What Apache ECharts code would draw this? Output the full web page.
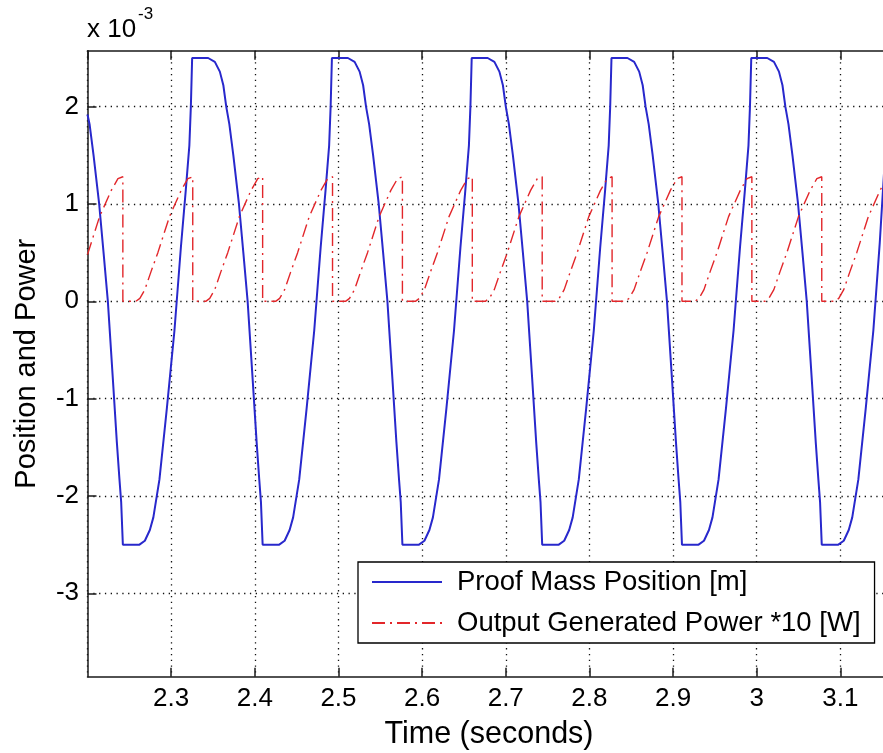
<!DOCTYPE html>
<html><head><meta charset="utf-8">
<script src="https://cdn.jsdelivr.net/npm/echarts@6/dist/echarts.min.js"></script>
<style>html,body{margin:0;padding:0;background:#fff}#c{width:883px;height:753px}</style>
</head><body><div id="c"></div>
<script>
// ---- data (time in s, values x 1e-3) ----
const seriesNames = ['Proof Mass Position [m]', 'Output Generated Power *10 [W]'];
const yTickValues = [-3, -2, -1, 0, 1, 2];
const xRange = [2.2, 3.2];
const yRange = [-3.857, 2.575];

const positionData = [
[2.2,1.92],[2.20247,1.82],[2.20725,1.5],[2.21394,1.0],[2.2192,0.5],[2.22434,0],[2.23032,-0.8],[2.2351,-1.45],[2.23821,-1.83],[2.24024,-2.06],[2.24227,-2.5],
[2.26211,-2.5],[2.26857,-2.46],[2.27454,-2.35],[2.27873,-2.22],[2.28602,-1.83],[2.29486,-1.1],[2.30395,-0.3],[2.3116,0.55],[2.31757,1.15],[2.32176,1.6],[2.32355,2.0],[2.3251,2.5],[2.34423,2.5],
[2.35224,2.46],[2.35821,2.36],[2.3624,2.22],[2.36586,2.0],[2.36957,1.82],[2.37435,1.5],[2.38104,1.0],[2.3863,0.5],[2.39144,0],[2.39742,-0.8],[2.4022,-1.45],[2.40531,-1.83],[2.40734,-2.06],[2.40937,-2.5],
[2.42921,-2.5],[2.43567,-2.46],[2.44164,-2.35],[2.44583,-2.22],[2.45312,-1.83],[2.46196,-1.1],[2.47105,-0.3],[2.4787,0.55],[2.48467,1.15],[2.48886,1.6],[2.49065,2.0],[2.4922,2.5],[2.51133,2.5],
[2.51934,2.46],[2.52531,2.36],[2.5295,2.22],[2.53296,2.0],[2.53667,1.82],[2.54145,1.5],[2.54814,1.0],[2.5534,0.5],[2.55854,0],[2.56452,-0.8],[2.5693,-1.45],[2.57241,-1.83],[2.57444,-2.06],[2.57647,-2.5],
[2.59631,-2.5],[2.60277,-2.46],[2.60874,-2.35],[2.61293,-2.22],[2.62022,-1.83],[2.62906,-1.1],[2.63815,-0.3],[2.6458,0.55],[2.65177,1.15],[2.65596,1.6],[2.65775,2.0],[2.6593,2.5],[2.67843,2.5],
[2.68644,2.46],[2.69241,2.36],[2.6966,2.22],[2.70006,2.0],[2.70377,1.82],[2.70855,1.5],[2.71524,1.0],[2.7205,0.5],[2.72564,0],[2.73162,-0.8],[2.7364,-1.45],[2.73951,-1.83],[2.74154,-2.06],[2.74357,-2.5],
[2.76341,-2.5],[2.76987,-2.46],[2.77584,-2.35],[2.78003,-2.22],[2.78732,-1.83],[2.79616,-1.1],[2.80525,-0.3],[2.8129,0.55],[2.81887,1.15],[2.82306,1.6],[2.82485,2.0],[2.8264,2.5],[2.84553,2.5],
[2.85354,2.46],[2.85951,2.36],[2.8637,2.22],[2.86716,2.0],[2.87087,1.82],[2.87565,1.5],[2.88234,1.0],[2.8876,0.5],[2.89274,0],[2.89872,-0.8],[2.9035,-1.45],[2.90661,-1.83],[2.90864,-2.06],[2.91067,-2.5],
[2.93051,-2.5],[2.93697,-2.46],[2.94294,-2.35],[2.94713,-2.22],[2.95442,-1.83],[2.96326,-1.1],[2.97235,-0.3],[2.98,0.55],[2.98597,1.15],[2.99016,1.6],[2.99195,2.0],[2.9935,2.5],[3.01263,2.5],
[3.02064,2.46],[3.02661,2.36],[3.0308,2.22],[3.03426,2.0],[3.03797,1.82],[3.04275,1.5],[3.04944,1.0],[3.0547,0.5],[3.05984,0],[3.06582,-0.8],[3.0706,-1.45],[3.07371,-1.83],[3.07574,-2.06],[3.07777,-2.5],
[3.09761,-2.5],[3.10407,-2.46],[3.11004,-2.35],[3.11423,-2.22],[3.12152,-1.83],[3.13036,-1.1],[3.13945,-0.3],[3.1471,0.6],[3.15207,1.3],[3.15626,1.7],[3.15805,2.0],[3.1596,2.5],[3.17873,2.5],
[3.18674,2.46],[3.19271,2.36],[3.1969,2.22],[3.20036,2.0]
];

const powerData = [
[2.2,0.48],[2.21442,0.87],[2.22841,1.14],[2.23641,1.26],[2.24227,1.28],
[2.24227,0],[2.25781,0],[2.26259,0.03],[2.26857,0.12],[2.27574,0.3],[2.28411,0.5],[2.29797,0.87],[2.31196,1.14],[2.31996,1.26],[2.32582,1.28],
[2.32582,0],[2.34136,0],[2.34614,0.03],[2.35212,0.12],[2.35929,0.3],[2.36766,0.5],[2.38152,0.87],[2.39551,1.14],[2.40351,1.26],[2.40937,1.28],
[2.40937,0],[2.42491,0],[2.42969,0.03],[2.43567,0.12],[2.44284,0.3],[2.45121,0.5],[2.46507,0.87],[2.47906,1.14],[2.48706,1.26],[2.49292,1.28],
[2.49292,0],[2.50846,0],[2.51324,0.03],[2.51922,0.12],[2.52639,0.3],[2.53476,0.5],[2.54862,0.87],[2.56261,1.14],[2.57061,1.26],[2.57647,1.28],
[2.57647,0],[2.59201,0],[2.59679,0.03],[2.60277,0.12],[2.60994,0.3],[2.61831,0.5],[2.63217,0.87],[2.64616,1.14],[2.65416,1.26],[2.66002,1.28],
[2.66002,0],[2.67556,0],[2.68034,0.03],[2.68632,0.12],[2.69349,0.3],[2.70186,0.5],[2.71572,0.87],[2.72971,1.14],[2.73771,1.26],[2.74357,1.28],
[2.74357,0],[2.75911,0],[2.76389,0.03],[2.76987,0.12],[2.77704,0.3],[2.78541,0.5],[2.79927,0.87],[2.81326,1.14],[2.82126,1.26],[2.82712,1.28],
[2.82712,0],[2.84266,0],[2.84744,0.03],[2.85342,0.12],[2.86059,0.3],[2.86896,0.5],[2.88282,0.87],[2.89681,1.14],[2.90481,1.26],[2.91067,1.28],
[2.91067,0],[2.92621,0],[2.93099,0.03],[2.93697,0.12],[2.94414,0.3],[2.95251,0.5],[2.96637,0.87],[2.98036,1.14],[2.98836,1.26],[2.99422,1.28],
[2.99422,0],[3.00976,0],[3.01454,0.03],[3.02052,0.12],[3.02769,0.3],[3.03606,0.5],[3.04992,0.87],[3.06391,1.14],[3.07191,1.26],[3.07777,1.28],
[3.07777,0],[3.09331,0],[3.09809,0.03],[3.10407,0.12],[3.11124,0.3],[3.11961,0.5],[3.13347,0.87],[3.14746,1.14],[3.15546,1.26],[3.16132,1.28],
[3.16132,0],[3.17686,0],[3.18164,0.03],[3.18762,0.12],[3.19479,0.3],[3.2,0.42]
];

// ---- chart ----
const FF = "'Liberation Sans', Arial, Helvetica, sans-serif";
const chart = echarts.init(document.getElementById('c'), null, {renderer: 'canvas'});
const axisLineStyle = {color: '#1a1a1a', width: 1.5};
const gridLineStyle = {color: '#111', width: 1.3, type: [1.3, 4.5]};

chart.setOption({
  animation: false,
  backgroundColor: '#fff',
  grid: {left: 87.5, right: -41, top: 50.7, bottom: 76.3, containLabel: false, outerBoundsMode: 'none'},
  xAxis: [{
    type: 'value', min: xRange[0], max: xRange[1], interval: 0.1, position: 'bottom',
    axisLine: {show: true, onZero: false, lineStyle: axisLineStyle},
    axisTick: {show: true, inside: true, length: 9, lineStyle: axisLineStyle},
    axisLabel: {show: true, margin: 9, showMinLabel: false, showMaxLabel: false,
      fontSize: 26, fontFamily: FF, color: '#000'},
    splitLine: {show: true, lineStyle: gridLineStyle}
  }, {
    type: 'value', min: xRange[0], max: xRange[1], interval: 0.1, position: 'top',
    axisLine: {show: true, onZero: false, lineStyle: axisLineStyle},
    axisTick: {show: true, inside: true, length: 9, lineStyle: axisLineStyle},
    axisLabel: {show: false}, splitLine: {show: false}
  }],
  yAxis: [{
    type: 'value', min: yRange[0], max: yRange[1], position: 'left',
    name: 'Position and Power', nameLocation: 'middle', nameGap: 46, nameRotate: 90,
    nameTextStyle: {fontSize: 29, fontFamily: FF, color: '#000'},
    axisLine: {show: true, onZero: false, lineStyle: axisLineStyle},
    axisTick: {show: true, inside: true, length: 9, customValues: yTickValues, lineStyle: axisLineStyle},
    axisLabel: {show: true, margin: 8.5, customValues: yTickValues, fontSize: 26, fontFamily: FF, color: '#000'},
    splitLine: {show: true, lineStyle: gridLineStyle}
  }],
  legend: {
    orient: 'vertical', left: 358, top: 562,
    padding: [3, 14, 3, 13],
    itemWidth: 70, itemHeight: 14, itemGap: 7,
    backgroundColor: '#fff', borderColor: '#000', borderWidth: 1.3, borderRadius: 0,
    itemStyle: {color: 'transparent', borderWidth: 0, opacity: 0},
    textStyle: {fontSize: 27.5, fontFamily: FF, color: '#000', lineHeight: 34, padding: [0, 0, 0, 10]},
    data: seriesNames
  },
  graphic: [
    {type: 'text', x: 87, y: 29.5, style: {text: 'x 10', fontSize: 26, fontFamily: FF, fill: '#000', verticalAlign: 'middle', align: 'left'}},
    {type: 'text', x: 138, y: 14, style: {text: '-3', fontSize: 17, fontFamily: FF, fill: '#000', verticalAlign: 'middle', align: 'left'}},
    {type: 'text', x: 489, y: 735, style: {text: 'Time (seconds)', fontSize: 30.5, fontFamily: FF, fill: '#000', verticalAlign: 'middle', align: 'center'}}
  ],
  series: [{
    name: seriesNames[0], type: 'line', data: positionData, symbol: 'none', smooth: false,
    lineStyle: {color: '#2828cc', width: 2}, itemStyle: {color: '#2828cc'}, z: 3
  }, {
    name: seriesNames[1], type: 'line', data: powerData, symbol: 'none', smooth: false,
    lineStyle: {color: '#e2262a', width: 1.4, type: [13, 5, 2, 5]}, itemStyle: {color: '#e2262a'}, z: 4
  }]
});
</script></body></html>
